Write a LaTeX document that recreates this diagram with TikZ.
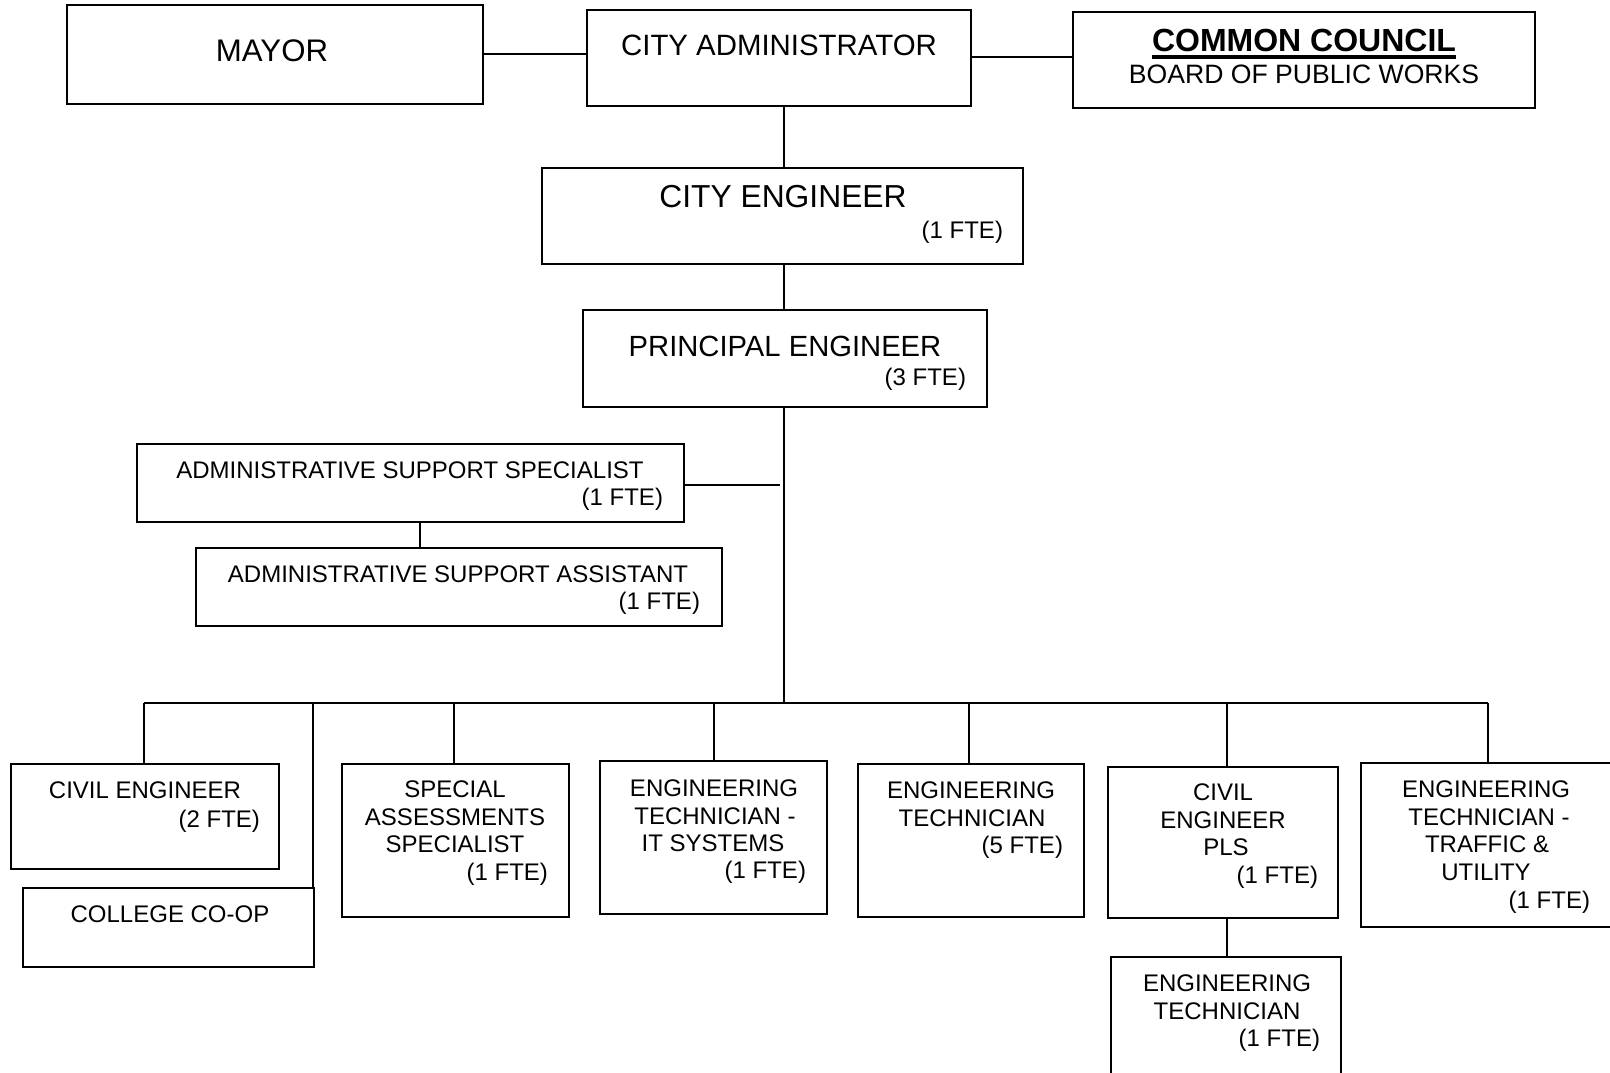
\documentclass[tikz,border=0pt]{standalone}
\usepackage{fontspec}
\setmainfont{Liberation Sans}
\usetikzlibrary{fit}
\begin{document}
\begin{tikzpicture}[x=0.5pt,y=-0.5pt,
  box/.style={draw=black,line width=1pt,inner sep=0pt,outer sep=0pt,rectangle},
  conn/.style={draw=black,line width=0.85pt},
  txt/.style={inner sep=0pt,outer sep=0pt,font=\fontsize{12pt}{14pt}\selectfont},
  big/.style={inner sep=0pt,outer sep=0pt,font=\fontsize{#1}{#1}\selectfont},
  ctr/.style={anchor=base},
  fte/.style={anchor=base east}]
\useasboundingbox (0,0) rectangle (1610,1072);
\clip (0,0) rectangle (1610,1072);
\fill[white] (0,0) rectangle (1610,1072);

% top row
\node[box,fit={(67,5) (483,104)}] (mayor) {};
\node[big=15.6pt,ctr] (mayort) at (272,61) {MAYOR};
\node[box,fit={(587,10) (971,106)}] (cadm) {};
\node[big=14.7pt,ctr] (cadmt) at (779,55) {CITY ADMINISTRATOR};
\node[box,fit={(1073,12) (1535,108)}] (council) {};
\node[big=16pt,ctr,font=\bfseries\fontsize{16pt}{16pt}\selectfont] (councilt) at (1304,51) {COMMON COUNCIL};
\coordinate (ulA) at (1152,57);
\coordinate (ulB) at (1456,57);
\draw[line width=2pt] (ulA) -- (ulB);
\node[big=13.3pt,ctr] (boardt) at (1304,83) {BOARD OF PUBLIC WORKS};

% engineers
\node[box,fit={(542,168) (1023,264)}] (ceng) {};
\node[big=15.9pt,ctr] (cengt) at (783,207) {CITY ENGINEER};
\node[txt,fte] (cengf) at (1003,238) {(1 FTE)};
\node[box,fit={(583,310) (987,407)}] (peng) {};
\node[big=14.6pt,ctr] (pengt) at (785,356) {PRINCIPAL ENGINEER};
\node[txt,fte] (pengf) at (966,385) {(3 FTE)};

% admin support
\node[box,fit={(137,444) (684,522)}] (ass) {};
\node[txt,ctr] (asst) at (410,478) {ADMINISTRATIVE SUPPORT SPECIALIST};
\node[txt,fte] (assf) at (663,505) {(1 FTE)};
\node[box,fit={(196,548) (722,626)}] (asa) {};
\node[txt,ctr] (asat) at (458,582) {ADMINISTRATIVE SUPPORT ASSISTANT};
\node[txt,fte] (asaf) at (700,609) {(1 FTE)};

% bottom row
\node[box,fit={(11,764) (279,869)}] (civ) {};
\node[txt,ctr] (civt) at (145,798) {CIVIL ENGINEER};
\node[txt,fte] (civf) at (260,827) {(2 FTE)};
\node[box,fit={(23,888) (314,967)}] (coop) {};
\node[txt,ctr] (coopt) at (170,922) {COLLEGE CO-OP};

\node[box,fit={(342,764) (569,917)}] (sas) {};
\node[txt,ctr] (sas1) at (455,797) {SPECIAL};
\node[txt,ctr] (sas2) at (455,825) {ASSESSMENTS};
\node[txt,ctr] (sas3) at (455,852) {SPECIALIST};
\node[txt,fte] (sasf) at (548,880) {(1 FTE)};

\node[box,fit={(600,761) (827,914)}] (its) {};
\node[txt,ctr] (its1) at (714,796) {ENGINEERING};
\node[txt,ctr] (its2) at (715,824) {TECHNICIAN -};
\node[txt,ctr] (its3) at (713,851) {IT SYSTEMS};
\node[txt,fte] (itsf) at (806,878) {(1 FTE)};

\node[box,fit={(858,764) (1084,917)}] (et5) {};
\node[txt,ctr] (et51) at (971,798) {ENGINEERING};
\node[txt,ctr] (et52) at (972,826) {TECHNICIAN};
\node[txt,fte] (et5f) at (1063,853) {(5 FTE)};

\node[box,fit={(1108,767) (1338,918)}] (pls) {};
\node[txt,ctr] (pls1) at (1223,800) {CIVIL};
\node[txt,ctr] (pls2) at (1223,828) {ENGINEER};
\node[txt,ctr] (pls3) at (1226,855) {PLS};
\node[txt,fte] (plsf) at (1318,883) {(1 FTE)};

\node[box,fit={(1111,957) (1341,1090)}] (et1) {};
\node[txt,ctr] (et11) at (1227,991) {ENGINEERING};
\node[txt,ctr] (et12) at (1227,1019) {TECHNICIAN};
\node[txt,fte] (et1f) at (1320,1046) {(1 FTE)};

\node[box,fit={(1361,763) (1640,927)}] (trf) {};
\node[txt,ctr] (trf1) at (1486,797) {ENGINEERING};
\node[txt,ctr] (trf2) at (1489,825) {TECHNICIAN -};
\node[txt,ctr] (trf3) at (1487,852) {TRAFFIC \&};
\node[txt,ctr] (trf4) at (1486,880) {UTILITY};
\node[txt,fte] (trff) at (1590,908) {(1 FTE)};

% connectors
\draw[conn] (mayor.east |- 0,54) -- (cadm.west |- 0,54);
\draw[conn] (cadm.east |- 0,57) -- (council.west |- 0,57);
\draw[conn] (cadm.south -| 784,0) -- (ceng.north -| 784,0);
\draw[conn] (ceng.south -| 784,0) -- (peng.north -| 784,0);
\coordinate (busL) at (144,703);
\coordinate (busR) at (1488,703);
\coordinate (busM) at (784,703);
\draw[conn] (peng.south -| 784,0) -- (busM);
\draw[conn] (busL) -- (busR);
\coordinate (assJ) at (780,485);
\draw[conn] (ass.east |- assJ) -- (assJ);
\draw[conn] (ass.south -| 420,0) -- (asa.north -| 420,0);
\draw[conn] (busL) -- (civ.north -| busL);
\draw[conn] (313,703) coordinate (coopJ) -- (coop.north -| coopJ);
\draw[conn] (454,703) coordinate (sasJ) -- (sas.north -| sasJ);
\draw[conn] (714,703) coordinate (itsJ) -- (its.north -| itsJ);
\draw[conn] (969,703) coordinate (et5J) -- (et5.north -| et5J);
\draw[conn] (1227,703) coordinate (plsJ) -- (pls.north -| plsJ);
\draw[conn] (busR) -- (trf.north -| busR);
\draw[conn] (pls.south -| plsJ) -- (et1.north -| plsJ);
\end{tikzpicture}
\end{document}
